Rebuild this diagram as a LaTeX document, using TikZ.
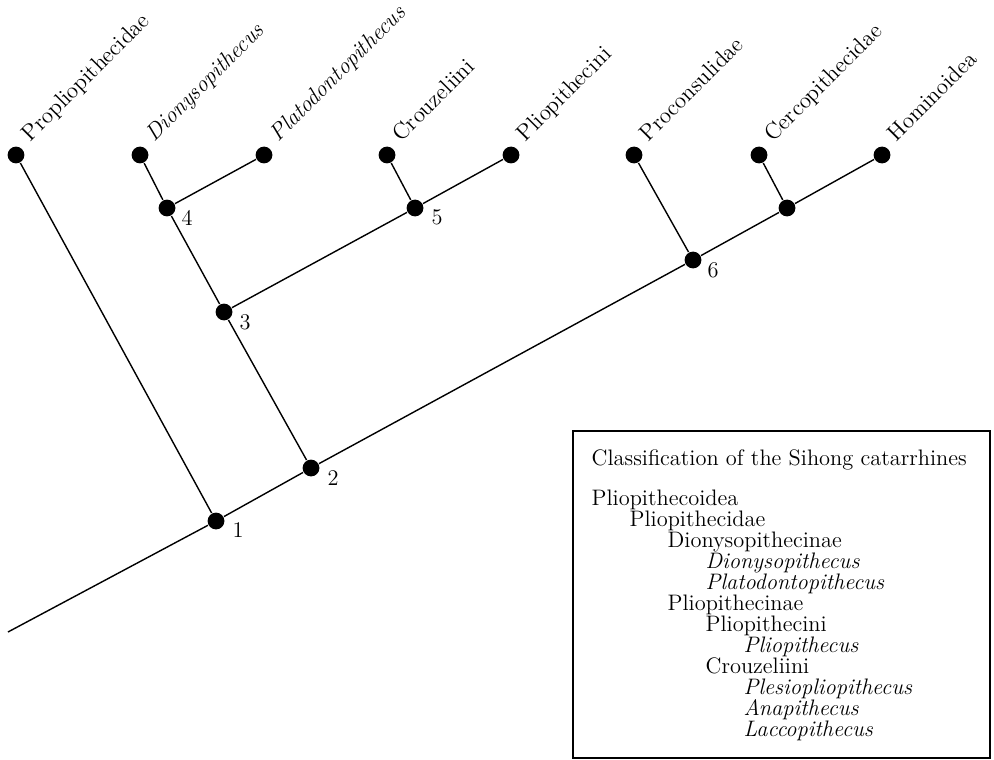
\documentclass[tikz,border=0pt]{standalone}
\usetikzlibrary{calc}

\begin{document}
\begin{tikzpicture}[x=0.5pt,y=-0.5pt,line width=0.7pt,
        dot/.style={circle,fill,inner sep=0pt,minimum size=8.4pt},
        taxon/.style={rotate=45,anchor=base west,inner sep=0pt,font=\fontsize{11.4}{13}\selectfont},
        num/.style={inner sep=0pt,font=\fontsize{11.2}{13}\selectfont},
        row/.style={anchor=base west,inner sep=0pt,font=\fontsize{11.2}{13}\selectfont}]
        \useasboundingbox (0,0) rectangle (994,759);
        % terminal taxa
        \node[dot] (prop) at (16,155) {};
        \node[dot] (dion) at (140,155) {};
        \node[dot] (plat) at (264,155) {};
        \node[dot] (crou) at (387,155) {};
        \node[dot] (plio) at (511,155) {};
        \node[dot] (proc) at (634,155) {};
        \node[dot] (cerc) at (759,155) {};
        \node[dot] (homi) at (882,155) {};
        \node[taxon] (tprop) at ($(prop)+(14,-12)$) {Propliopithecidae};
        \node[taxon] (tdion) at ($(dion)+(14,-12)$) {\textit{Dionysopithecus}};
        \node[taxon] (tplat) at ($(plat)+(14,-12)$) {\textit{Platodontopithecus}};
        \node[taxon] (tcrou) at ($(crou)+(14,-12)$) {Crouzeliini};
        \node[taxon] (tplio) at ($(plio)+(14,-12)$) {Pliopithecini};
        \node[taxon] (tproc) at ($(proc)+(14,-12)$) {Proconsulidae};
        \node[taxon] (tcerc) at ($(cerc)+(14,-12)$) {Cercopithecidae};
        \node[taxon] (thomi) at ($(homi)+(14,-12)$) {Hominoidea};
        % nodes of the tree
        \coordinate (root) at (8,632);
        \node[dot] (n1) at (216,521) {};
        \node[dot] (n2) at (311,468) {};
        \node[dot] (n3) at (224,312) {};
        \node[dot] (n4) at (167,208) {};
        \node[dot] (n5) at (415,208) {};
        \node[dot] (n6) at (693,260) {};
        \node[dot] (n7) at (787,208) {};
        \node[num] (l1) at ($(n1)+(22,9)$) {1};
        \node[num] (l2) at ($(n2)+(22,10)$) {2};
        \node[num] (l3) at ($(n3)+(21,10)$) {3};
        \node[num] (l4) at ($(n4)+(20,10)$) {4};
        \node[num] (l5) at ($(n5)+(22,9)$) {5};
        \node[num] (l6) at ($(n6)+(20,10)$) {6};
        % branches
        \draw (root) -- (n1) -- (n2) -- (n6) -- (n7) -- (homi);
        \draw (n1) -- (prop);
        \draw (n2) -- (n3) -- (n4) -- (dion);
        \draw (n4) -- (plat);
        \draw (n3) -- (n5) -- (plio);
        \draw (n5) -- (crou);
        \draw (n6) -- (proc);
        \draw (n7) -- (cerc);
        % classification box
        \draw[line width=0.6pt] (573,431) rectangle (990,758);
        \node[row] (title) at (591,465) {Classification of the Sihong catarrhines};
        \node[row] (r1) at (591,505) {Pliopithecoidea};
        \node[row] (r2) at (629,526) {Pliopithecidae};
        \node[row] (r3) at (667,547) {Dionysopithecinae};
        \node[row] (r4) at (705,568) {\textit{Dionysopithecus}};
        \node[row] (r5) at (705,589) {\textit{Platodontopithecus}};
        \node[row] (r6) at (667,610) {Pliopithecinae};
        \node[row] (r7) at (705,631) {Pliopithecini};
        \node[row] (r8) at (743,652) {\textit{Pliopithecus}};
        \node[row] (r9) at (705,673) {Crouzeliini};
        \node[row] (r10) at (743,694) {\textit{Plesiopliopithecus}};
        \node[row] (r11) at (743,715) {\textit{Anapithecus}};
        \node[row] (r12) at (743,736) {\textit{Laccopithecus}};
    \end{tikzpicture}
\end{document}
